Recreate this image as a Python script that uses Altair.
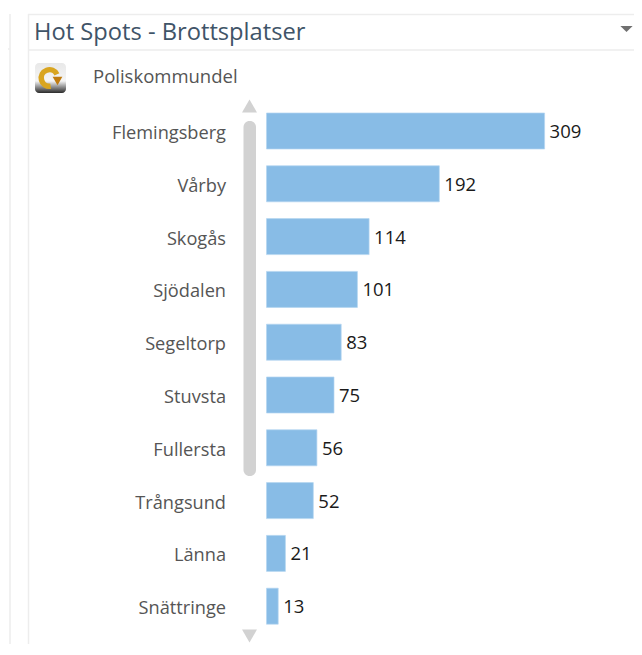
import altair as alt
import pandas as pd

categories = ["Flemingsberg", "Vårby", "Skogås", "Sjödalen", "Segeltorp", "Stuvsta", "Fullersta", "Trångsund", "Länna", "Snättringe"]
values = [309, 192, 114, 101, 83, 75, 56, 52, 21, 13]
title_text = "Hot Spots - Brottsplatser"
field_text = "Poliskommundel"

W, H = 626, 636
OX, OY = 8, 8
FONT = "Open Sans"

df = pd.DataFrame({"cat": categories, "val": values})
x_scale = alt.Scale(domain=[0, 400], range=[258.5, 618.5], nice=False)
y_scale = alt.Scale(domain=categories, range=[96.6, 624.6], paddingInner=0.318, paddingOuter=0.159)
cat_axis = alt.Axis(orient="left", offset=-217.5, domain=False, ticks=False, labelPadding=0, title=None,
                    labelFont=FONT, labelFontSize=18.2, labelColor="#555555", labelOffset=3, grid=False)
base = alt.Chart(df)

bars = base.mark_bar(color="#88BCE6", stroke="#B5D6F0", strokeWidth=0.7).encode(
    x=alt.X("val:Q", scale=x_scale, axis=None),
    x2=alt.value(258.5),
    y=alt.Y("cat:N", scale=y_scale, sort=categories, axis=cat_axis),
)
labels = base.mark_text(align="left", baseline="middle", dx=5, dy=1, font=FONT, fontSize=18.5, color="#1A1A1A").encode(
    x=alt.X("val:Q", scale=x_scale, axis=None),
    y=alt.Y("cat:N", scale=y_scale, sort=categories, axis=cat_axis),
    text="val:Q",
)

one = alt.Chart(pd.DataFrame({"a": [0]}))

def hline(x1, x2, y, color="#EDEDED", w=1.5):
    return one.mark_rule(color=color, strokeWidth=w).encode(
        x=alt.value(x1 - OX), x2=alt.value(x2 - OX), y=alt.value(y - OY))

def vline(x, y1, y2, color="#EDEDED", w=1.5):
    return one.mark_rule(color=color, strokeWidth=w).encode(
        x=alt.value(x - OX), y=alt.value(y1 - OY), y2=alt.value(y2 - OY))

def label(t, x, y, size, color):
    return one.mark_text(text=t, align="left", baseline="middle", font=FONT, fontSize=size, color=color).encode(
        x=alt.value(x - OX), y=alt.value(y - OY))

def tri(x, y, shape, size, color):
    return one.mark_point(shape=shape, filled=True, size=size, color=color, opacity=1).encode(
        x=alt.value(x - OX), y=alt.value(y - OY))

def box(x1, x2, y1, y2, **kw):
    return one.mark_rect(**kw).encode(
        x=alt.value(x1 - OX), x2=alt.value(x2 - OX), y=alt.value(y1 - OY), y2=alt.value(y2 - OY))

chrome = [
    hline(28, 634, 14.5), hline(28, 634, 50), hline(8, 10, 49),
    vline(10, 14, 644), vline(28.5, 14, 644),
    label(title_text, 34, 33, 23.7, "#3F5468"),
    label(field_text, 93, 77, 18.5, "#555555"),
    tri(626.5, 29, "M-1,-0.5L1,-0.5L0,0.5Z", 150, "#707070"),
    box(243.5, 256, 121, 476, color="#D2D2D2", cornerRadius=6),
    tri(249.5, 106, "triangle-up", 225, "#D2D2D2"),
    tri(249.5, 636, "triangle-down", 225, "#D2D2D2"),
    box(35, 66, 63, 93, cornerRadius=4, color=alt.Gradient(
        gradient="linear", x1=0, y1=0, x2=0, y2=1,
        stops=[alt.GradientStop(offset=0, color="#E8E8E8"), alt.GradientStop(offset=0.6, color="#F5F5F5"),
               alt.GradientStop(offset=1, color="#2A2A2A")])),
    one.mark_arc(color="#D9A520", innerRadius=5.5, outerRadius=11, theta=3.0, theta2=7.4).encode(
        x=alt.value(49.5 - OX), y=alt.value(78 - OY)),
    tri(57.5, 81, "triangle-down", 95, "#C07C10"),
]

chart = alt.layer(*chrome, bars, labels).properties(
    width=W, height=H, padding=0, autosize=alt.AutoSizeParams(type="none"),
).configure_view(stroke=None)

chart.save("out.html", embed_options={"renderer": "svg", "actions": False})
